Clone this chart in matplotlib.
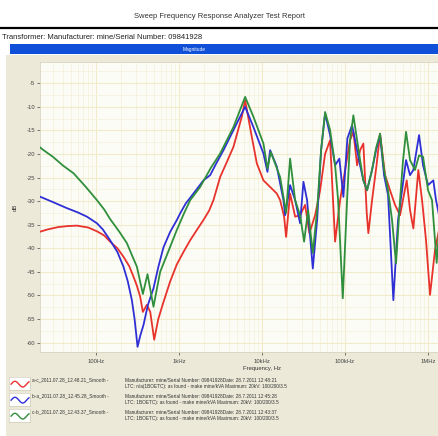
import numpy as np
import matplotlib
matplotlib.use("Agg")
import matplotlib.pyplot as plt
from matplotlib.ticker import FixedLocator, NullFormatter

# data (frequency in Hz, magnitude in dB)
red_f = [20, 26, 35, 45, 58.5, 80, 102, 125, 147, 180, 213, 250, 281, 310, 339, 365, 408,
         448, 500, 560, 647, 780, 938, 1150, 1358, 1650, 1963, 2300, 2588, 3119, 3800, 4510,
         5690, 6240, 7510, 8630, 10370, 12480, 15030, 16480, 18410,
         19460, 21730, 25000, 28700, 32960, 37150, 43550, 50000, 57420, 65920, 75800,
         87100, 100000, 114800, 125900, 139600, 151700, 166100, 182400, 190800, 211500,
         240900, 264000, 303400, 348300, 400000, 460000, 553400, 606700, 665300, 763800,
         847300, 946000, 1057000, 1213000, 1358000, 1600000, 2000000]
red_db = [-36.6, -36.0, -35.5, -35.3, -35.2, -35.6, -36.4, -37.3, -38.6, -40.0, -41.8, -43.8,
          -46.0, -48.0, -50.3, -53.5, -52.0, -53.5, -59.4, -55.0, -51.4, -47.0, -43.4, -40.5,
          -38.3, -36.0, -34.0, -32.0, -29.8, -24.9, -21.5, -18.5,
          -12.1, -8.6, -16.4, -22.0, -25.6, -27.0, -28.4, -29.8, -33.3,
          -37.6, -28.4, -33.3, -33.0, -30.8, -36.8, -33.0, -27.7, -20.0, -17.1, -38.6,
          -29.8, -23.4, -17.1, -15.3, -22.4, -19.2, -17.8, -32.5, -36.8,
          -29.8, -22.0, -15.7, -24.5, -27.7, -30.8, -33.0, -25.6, -31.9, -35.8, -23.4,
          -29.8, -38.3, -49.9, -40.4, -36.1, -33.0, -30.0]

blue_f = [20, 30, 44.4, 60, 77.3, 102, 120, 147, 180, 213, 240, 269, 290, 315, 340, 371,
          420, 490, 560, 647, 780, 938, 1028, 1200, 1486, 1963, 2362, 2800, 3420, 4955, 6240,
          7850, 10370, 11590, 12480, 15030, 18070, 18930, 21730,
          25000, 28700, 31470, 34840, 40830, 46030, 51400, 57420, 65920, 75800, 85300,
          95400, 106600, 121400, 131900, 151700, 166100, 184000, 211500, 236100, 264000,
          295100, 329600, 381900, 435200, 486300, 543300, 606700, 665300, 779600, 871000,
          1000000, 1158000, 1248000, 1358000, 1600000, 2000000]
blue_db = [-28.9, -30.2, -31.5, -32.4, -33.3, -34.7, -36.0, -38.3, -40.8, -43.9, -47.0, -51.0,
           -55.0, -60.9, -58.5, -56.3, -52.0, -48.5, -44.0, -39.8, -36.5, -34.0, -32.6, -30.5,
           -28.4, -25.6, -24.5, -22.0, -19.2, -13.5, -10.0,
           -14.3, -19.9, -23.8, -19.2, -22.7, -29.8, -33.0, -26.6,
           -29.8, -34.7, -25.9, -29.8, -44.3, -34.0, -19.2, -11.4, -16.0, -22.4, -21.0,
           -29.1, -16.7, -13.9, -17.1, -22.4, -25.6, -27.7, -23.4, -19.2, -16.0,
           -24.5, -28.7, -51.0, -34.0, -27.7, -21.3, -24.5, -23.4, -16.0, -22.4,
           -26.6, -25.6, -29.8, -33.0, -30.0, -28.0]

green_f = [20, 23.2, 30, 40, 53.3, 75, 102, 125, 147, 190, 234, 270, 309, 365, 415, 490,
           540, 590, 743, 938, 1150, 1358, 1791, 2400, 3119, 4510, 6240, 7850, 10370, 11590,
           12730, 16480, 19460, 21730, 25000, 28700,
           32070, 35810, 40830, 46030, 51400, 57420, 65920, 75800, 82400, 93800, 105700,
           114800, 125900, 139600, 151700, 166100, 184000, 211500, 236100, 264000, 295100,
           329600, 368200, 411200, 460000, 500000, 543300, 606700, 696800, 779600, 871000,
           1000000, 1117000, 1271000, 1358000, 1600000, 2000000]
green_db = [-18.3, -19.2, -20.6, -22.5, -24.1, -27.0, -29.8, -31.8, -33.8, -36.5, -38.9,
            -41.5, -43.9, -49.7, -45.5, -52.4, -48.5, -45.0, -40.6, -36.1, -32.5, -29.8,
            -27.0, -23.0, -19.9, -14.3, -7.9, -12.1, -17.8, -23.1, -19.6,
            -24.9, -32.5, -21.0, -29.8, -33.0, -38.6, -31.9, -41.0, -31.9, -19.2, -11.1,
            -14.9, -22.4, -29.8, -50.6, -29.8, -17.1, -11.8, -17.1, -21.3, -25.6, -27.7,
            -23.4, -18.8, -15.7, -23.4, -27.7, -34.0, -43.2, -29.8, -21.3, -15.3, -21.3,
            -23.4, -20.3, -20.6, -27.7, -29.8, -43.1, -36.1, -32.0, -30.0]

y_ticks = [-5, -10, -15, -20, -25, -30, -35, -40, -45, -50, -55, -60]
x_ticks = [100, 1000, 10000, 100000, 1000000]
x_labels = ["100Hz", "1kHz", "10kHz", "100kHz", "1MHz"]

series_names = ["a-c_2011.07.28_12.48.21_Smooth -",
                "b-a_2011.07.28_12.45.28_Smooth -",
                "c-b_2011.07.28_12.43.37_Smooth -"]
series_info = [
    ("Manufacturer: mine/Serial Number: 09841928Date: 28.7.2011 12:48:21",
     "LTC: n/a(1BOETC): as found - make mine/kVA Maximum: 20kV: 100/200/3.5"),
    ("Manufacturer: mine/Serial Number: 09841928Date: 28.7.2011 12:45:28",
     "LTC: 1BOETC): as found - make mine/kVA Maximum: 20kV: 100/200/3.5"),
    ("Manufacturer: mine/Serial Number: 09841928Date: 28.7.2011 12:43:37",
     "LTC: 1BOETC): as found - make mine/kVA Maximum: 20kV: 100/200/3.5"),
]
colors = ["#e8322c", "#2f2fd6", "#2f8f3c"]

W, H = 439, 436
plt.rcParams['font.family'] = ['Liberation Sans', 'DejaVu Sans']

fig = plt.figure(figsize=(W / 100, H / 100), dpi=100)
fig.patch.set_facecolor("white")


def rect(x0, y0, x1, y1):
    # pixel box (top-left origin) -> figure fraction
    return [x0 / W, 1 - y1 / H, (x1 - x0) / W, (y1 - y0) / H]


# beige panel behind the chart
bg = fig.add_axes(rect(6, 55, 439, 436))
bg.set_facecolor("#ece9d8")
bg.set_xticks([])
bg.set_yticks([])
for s in bg.spines.values():
    s.set_visible(False)

# header
fig.text(0.5, 1 - 17 / H, "Sweep Frequency Response Analyzer Test Report",
         ha="center", va="center", fontsize=5.5, color="#333333")
fig.add_artist(plt.Line2D([0, 1], [1 - 28.5 / H, 1 - 28.5 / H], color="black", lw=1.6))
fig.text(2 / W, 1 - 37.5 / H, "Transformer: Manufacturer: mine/Serial Number: 09841928",
         ha="left", va="center", fontsize=5.5, color="#222222")
bar = fig.add_axes(rect(10, 44, 439, 54))
bar.set_facecolor("#1050d8")
bar.set_xticks([])
bar.set_yticks([])
for s in bar.spines.values():
    s.set_visible(False)
bar.text(0.43, 0.5, "Magnitude", transform=bar.transAxes, ha="center", va="center",
         fontsize=3.5, color="white")

# main plot
ax = fig.add_axes(rect(40, 62, 40 + 413, 352))
ax.set_facecolor("#fcfcf6")
ax.plot(red_f, red_db, color=colors[0], lw=1.3, zorder=3)
ax.plot(blue_f, blue_db, color=colors[1], lw=1.3, zorder=4)
ax.plot(green_f, green_db, color=colors[2], lw=1.3, zorder=5)
ax.set_xscale("log")
ax.set_xlim(21, 2e6)
ax.set_ylim(-62, -0.5)

ax.set_yticks(y_ticks)
ax.set_yticklabels([str(v) for v in y_ticks])
ax.yaxis.set_minor_locator(FixedLocator(np.arange(-62.5, 0, 2.5)))
ax.set_xticks(x_ticks)
ax.set_xticklabels(x_labels)
ax.xaxis.set_minor_formatter(NullFormatter())
ax.tick_params(axis="both", which="major", labelsize=4.2, length=2, width=0.5,
               colors="#444444", pad=1.5)
ax.tick_params(axis="x", which="major", pad=3)
ax.tick_params(axis="both", which="minor", length=0)
ax.grid(True, which="major", color="#f1ebcb", lw=0.8)
ax.grid(True, which="minor", color="#f6f2dd", lw=0.6)
ax.set_axisbelow(True)
for s in ax.spines.values():
    s.set_color("#d8d4c0")
    s.set_linewidth(0.6)
ax.set_xlabel("Frequency, Hz", fontsize=4.2, color="#333333", labelpad=1)
ax.set_ylabel("dB", fontsize=4.2, color="#333333", labelpad=6)
ax.xaxis.set_label_coords((262 - 40) / 413, -14 / 290)

# legend block
for i in range(3):
    y0 = 377 + i * 16
    icon = fig.add_axes(rect(9, y0, 30, y0 + 13))
    icon.set_facecolor("white")
    icon.set_xticks([])
    icon.set_yticks([])
    for s in icon.spines.values():
        s.set_color("#c8c4b0")
        s.set_linewidth(0.4)
    t = np.linspace(0.1, 0.95, 30)
    icon.plot(t, 0.45 + 0.22 * np.sin((t - 0.1) * 8.5), color=colors[i], lw=1.0)
    icon.set_xlim(0, 1)
    icon.set_ylim(0, 1)
    fig.text(32 / W, 1 - (y0 + 3) / H, series_names[i], fontsize=3.4, color="#333333",
             ha="left", va="center")
    fig.text(125 / W, 1 - (y0 + 3) / H, series_info[i][0], fontsize=3.4, color="#333333",
             ha="left", va="center")
    fig.text(125 / W, 1 - (y0 + 9.5) / H, series_info[i][1], fontsize=3.4, color="#333333",
             ha="left", va="center")

fig.savefig("out.png", dpi=100, facecolor=fig.get_facecolor())
